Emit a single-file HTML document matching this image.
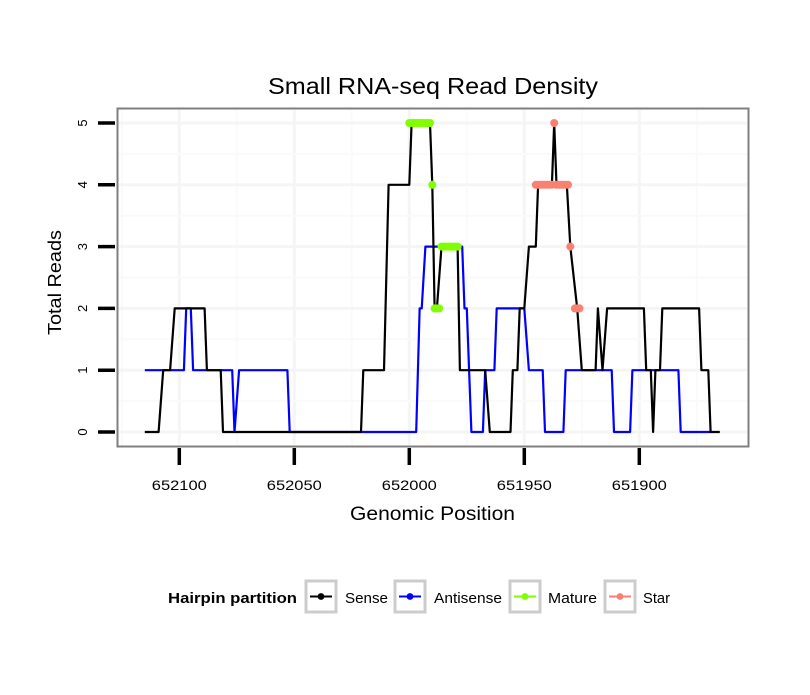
<!DOCTYPE html>
<html><head><meta charset="utf-8"><style>
body{margin:0;background:#fff;}
svg text{font-family:"Liberation Sans",sans-serif;}
</style></head><body>
<svg id="chart" width="810" height="690" xmlns="http://www.w3.org/2000/svg">
<rect width="810" height="690" fill="#fff"/>
<text x="268" y="94" font-size="23" textLength="330" lengthAdjust="spacingAndGlyphs" fill="#000">Small RNA-seq Read Density</text>
<rect x="117.5" y="108.5" width="631" height="338" fill="#fff" stroke="#7f7f7f" stroke-width="2"/>
<g id="grid"></g>
<g id="series"></g>
<g id="axes"></g>
<text x="350" y="520" font-size="19" textLength="165" lengthAdjust="spacingAndGlyphs">Genomic Position</text>
<text transform="translate(61,335) rotate(-90)" font-size="18" textLength="105" lengthAdjust="spacingAndGlyphs">Total Reads</text>
<g>
<text x="168" y="603" font-size="15" font-weight="bold" textLength="129" lengthAdjust="spacingAndGlyphs">Hairpin partition</text>
<g id="legend"></g>
</g>
</svg>
<script>
const senseX=[652115,652109,652107,652104,652102,652089,652088,652082,652081,652021,652020,652011,652009,652000,651999,651991,651990,651989,651988,651986,651979,651978,651967,651965,651956,651955,651953,651952,651950,651948,651945,651944,651938,651937,651936,651931.5,651930,651927,651925,651919,651918,651916,651914,651898,651897,651895,651894,651893,651891,651890,651874,651873,651870,651869,651865];
const senseY=[0,0,1,1,2,2,1,1,0,0,1,1,4,4,5,5,4,2,2,3,3,1,1,0,0,1,1,2,2,3,3,4,4,5,4,4,3,2,1,1,2,1,2,2,1,1,0,1,1,2,2,1,1,0,0];
const antiX=[652115,652098,652097,652095,652094,652077,652076,652074,652053,652052,651997,651995.5,651994.6,651993,651977,651976,651975,651973,651968,651967,651963,651962,651950,651948,651942,651941,651933,651932,651912,651911,651904,651903,651883,651882,651869];
const antiY=[1,1,2,2,1,1,0,1,1,0,0,2,2,3,3,2,2,0,0,1,1,2,2,1,1,0,0,1,1,0,0,1,1,0,0];
const matureX=[652000,651999,651998,651997,651996,651995,651994,651993,651992,651991,651990,651989,651988,651987,651986,651985,651984,651983,651982,651981,651980,651979];
const matureY=[5,5,5,5,5,5,5,5,5,5,4,2,2,2,3,3,3,3,3,3,3,3];
const starX=[651945,651944,651943,651942,651941,651940,651939,651938,651937,651936,651935,651934,651933,651932,651931,651930,651928,651927,651926];
const starY=[4,4,4,4,4,4,4,4,5,4,4,4,4,4,4,3,2,2,2];
const xTicks=[652100,652050,652000,651950,651900];
const yTicks=[0,1,2,3,4,5];
const legendLabels=["Sense","Antisense","Mature","Star"];
const legendColors=["#000000","#0000ff","#7fff00","#fa8072"];

const NS="http://www.w3.org/2000/svg";
const xs=v=>179.3+(652100-v)*2.3;
const ys=v=>432-v*61.8;
function mk(tag,attrs,parent){const e=document.createElementNS(NS,tag);for(const k in attrs)e.setAttribute(k,attrs[k]);parent.appendChild(e);return e;}
const grid=document.getElementById('grid'),ser=document.getElementById('series'),ax=document.getElementById('axes'),leg=document.getElementById('legend');
for(let v=652125;v>=651850;v-=25){const x=xs(v);if(x<119||x>747)continue;
 const l=mk('line',{x1:x,x2:x,y1:110,y2:445,stroke:(v%50===0)?'#f5f5f5':'#fafafa','stroke-width':(v%50===0)?3:2},grid);
 
 }
for(let v=-0.5;v<=5.5;v+=0.5){const y=ys(v);if(y<110||y>445)continue;
 const l=mk('line',{x1:119,x2:747,y1:y,y2:y,stroke:(v%1===0)?'#f5f5f5':'#fafafa','stroke-width':(v%1===0)?3:2},grid);
 
 }
function line(X,Y,color,name){const p=mk('polyline',{points:X.map((x,i)=>xs(x)+','+ys(Y[i])).join(' '),fill:'none',stroke:color,'stroke-width':2.2,'stroke-linejoin':'round'},ser);
 
 }
line(antiX,antiY,'#0000ff','antisense-line');
line(senseX,senseY,'#000000','sense-line');
function pts(X,Y,color,name){X.forEach((x,i)=>{const c=mk('circle',{cx:xs(x),cy:ys(Y[i]),r:4,fill:color},ser);
 
 });}
pts(matureX,matureY,'#7fff00','mature-point');
pts(starX,starY,'#fa8072','star-point');
xTicks.forEach(v=>{const x=xs(v);
 const t=mk('line',{x1:x,x2:x,y1:448,y2:465,stroke:'#000','stroke-width':3.5},ax);
 
 
 const l=mk('text',{x:x-27.5,y:490,'font-size':14,textLength:55,lengthAdjust:'spacingAndGlyphs'},ax);l.textContent=v;
 
 });
yTicks.forEach(v=>{const y=ys(v);
 const t=mk('line',{x1:98,x2:115,y1:y,y2:y,stroke:'#000','stroke-width':3.5},ax);
 
 
 const l=mk('text',{transform:`translate(87,${y}) rotate(-90)`,'font-size':13,'text-anchor':'middle'},ax);l.textContent=v;
 
 });
const keyX=[306,395,510,605];
const textX=[345,434,548,643];
const textW=[43,68,49,27];
legendLabels.forEach((lab,i)=>{const g=mk('g',{},leg);
 
 
 const x=keyX[i];
 mk('rect',{x:x,y:581,width:30,height:31,fill:'#fff',stroke:'#cccccc','stroke-width':3},g);
 mk('line',{x1:x+4,x2:x+26,y1:596.5,y2:596.5,stroke:legendColors[i],'stroke-width':2},g);
 mk('circle',{cx:x+15,cy:596.5,r:3.4,fill:legendColors[i]},g);
 const t=mk('text',{x:textX[i],y:603,'font-size':15,textLength:textW[i],lengthAdjust:'spacingAndGlyphs'},g);t.textContent=lab;});
</script>
</body></html>
